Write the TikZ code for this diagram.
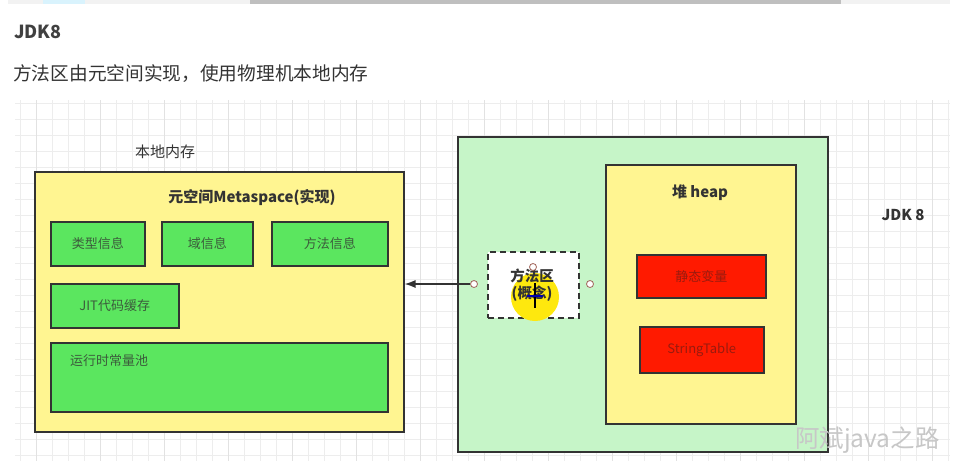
\documentclass[tikz,border=0pt]{standalone}
\usepackage{fontspec}
\setmainfont{Noto Sans CJK SC}
\usetikzlibrary{arrows.meta}
\definecolor{boxline}{HTML}{333333}
\definecolor{yel}{HTML}{FFF591}
\definecolor{grn}{HTML}{5BE65F}
\definecolor{lgrn}{HTML}{C6F5C8}
\definecolor{redbox}{HTML}{FF1A00}
\definecolor{txt}{HTML}{333333}
\definecolor{gtxt}{HTML}{3C5C3C}
\definecolor{rtxt}{HTML}{9A1A0E}
\definecolor{gridc}{HTML}{EDEDED}
\definecolor{gridm}{HTML}{E2E2E2}
\definecolor{handle}{HTML}{A0645A}
\newcommand{\fs}[1]{\fontsize{#1}{#1}\selectfont}
\begin{document}
\begin{tikzpicture}[x=1pt,y=-1pt,
  box/.style={draw=boxline, line width=1.5pt, inner sep=0pt, anchor=north west},
  ybox/.style={box, fill=yel},
  gbox/.style={box, fill=grn, text=gtxt, font=\fs{13}},
  rbox/.style={box, fill=redbox, text=rtxt, font=\fs{13}},
  lbl/.style={text=txt, inner sep=0pt},
  blbl/.style={lbl, font=\bfseries\fs{15}},
  hnd/.style={circle, draw=handle, fill=white, line width=0.8pt, minimum size=7pt, inner sep=0pt}]
\useasboundingbox (0,0) rectangle (957,467);
\fill[white] (0,0) rectangle (957,467);
% top strip
\fill[black!5] (8,0) rectangle (950,4);
\fill[black!25] (250,0) rectangle (841,4);
\fill[cyan!15] (43,0) rectangle (85,4);
% heading texts
\node[lbl, anchor=west, font=\bfseries\fs{18}, text=black!75] (title) at (14,32) {JDK8};
\node[lbl, anchor=west, font=\fs{18.7}] (sub) at (13,74) {方法区由元空间实现，使用物理机本地内存};
% grid
\begin{scope}
\clip (15,100) rectangle (950,461);
\foreach \i in {0,...,60} {\draw[gridc, line width=0.8pt] (4.7+16*\i,100) -- (4.7+16*\i,461);}
\foreach \j in {0,...,23} {\draw[gridc, line width=0.8pt] (15,103+16*\j) -- (950,103+16*\j);}
\foreach \i in {0,...,15} {\draw[gridm, line width=0.8pt] (36.7+64*\i,100) -- (36.7+64*\i,461);}
\end{scope}
% left: native memory
\node[ybox, minimum width=369, minimum height=260] (mem) at (34,171) {};
\node[lbl, font=\fs{15}] (memlabel) at (165,152) {本地内存};
\node[blbl] (meta) at (252,198) {元空间Metaspace(实现)};
\node[gbox, minimum width=94, minimum height=44] (type) at (50,221) {类型信息};
\node[gbox, minimum width=91, minimum height=44] (field) at (161,221) {域信息};
\node[gbox, minimum width=116, minimum height=44] (method) at (271,221) {方法信息};
\node[gbox, minimum width=128, minimum height=44] (jit) at (50,283) {JIT代码缓存};
\node[gbox, minimum width=337, minimum height=69] (pool) at (50,342) {};
\node[lbl, text=gtxt, font=\fs{13}, anchor=west] (poollabel) at (70,361) {运行时常量池};
% right: JVM
\node[box, fill=lgrn, minimum width=370, minimum height=315] (jvm) at (457,136) {};
\node[ybox, minimum width=190, minimum height=259] (heap) at (605,164) {};
\node[blbl] (heaplabel) at (700,193) {堆 heap};
\node[rbox, minimum width=129, minimum height=43] (static) at (636,254) {静态变量};
\node[rbox, minimum width=124, minimum height=46] (strtab) at (639,326) {StringTable};
\node[blbl] (jdk) at (903,215) {JDK 8};
% method area (concept)
\node[draw=boxline, line width=1.5pt, dash pattern=on 6pt off 4pt, fill=white, anchor=north west,
      minimum width=91, minimum height=66, inner sep=0pt] (ma) at (487,251) {};
\fill[yellow!90!orange!95] (535,297) circle (24);
\node[blbl, align=center, font=\bfseries\fs{14.5}] (malabel) at (532,285) {方法区\\[2pt](概念)};
\draw[black, line width=1.2pt] (535,283) -- (535,308);
\draw[blue!70!black, line width=1.2pt] (527,296) -- (543,296);
\node[hnd] (hl) at (474,284) {};
\node[hnd] (hr) at (590,284) {};
\node[hnd] (ht) at (533,267) {};
\draw[boxline, line width=1.5pt, -{Latex[length=11pt,width=8pt]}] (hl.west) -- (hl.west -| mem.east);
% watermark
\node[lbl, text=black!22, font=\fs{24.5}, anchor=west] (wm) at (795,440) {阿斌java之路};
\end{tikzpicture}
\end{document}
